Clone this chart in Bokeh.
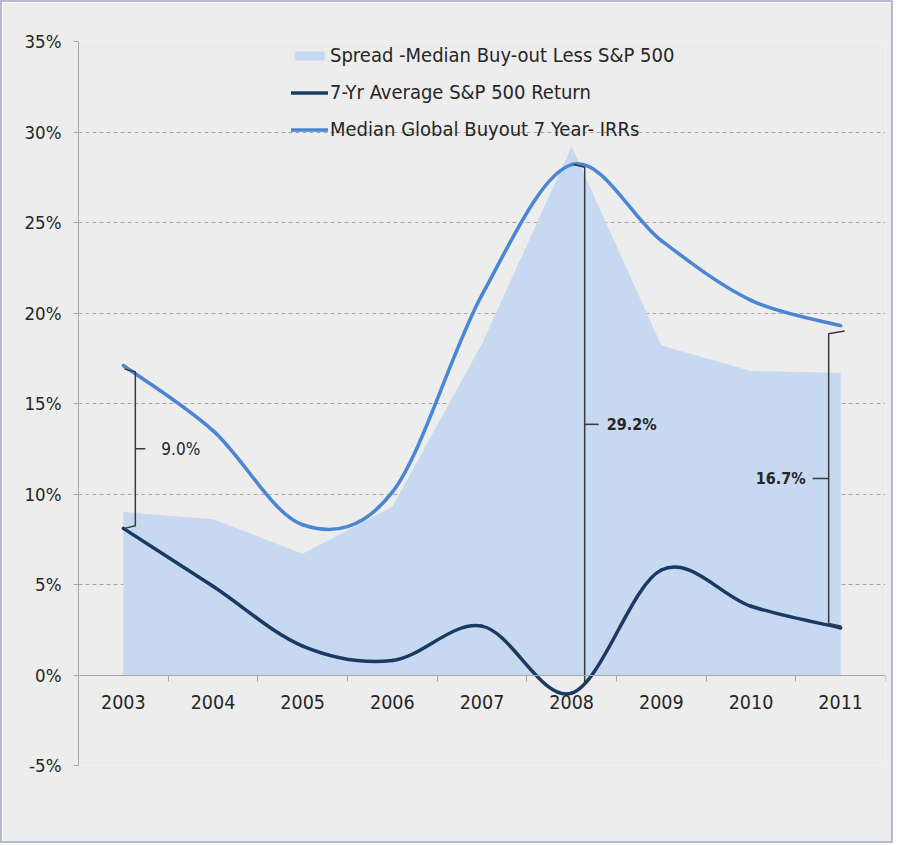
import numpy as np
from bokeh.plotting import figure
from bokeh.models import (FixedTicker, PrintfTickFormatter, Legend, LegendItem,
                          Range1d, ColumnDataSource)
from bokeh.core.properties import value
from bokeh.embed import file_html
from bokeh.resources import INLINE

# ---- data ----
years = ["2003", "2004", "2005", "2006", "2007", "2008", "2009", "2010", "2011"]
spread = [9.0, 8.6, 6.7, 9.3, 18.3, 29.2, 18.2, 16.8, 16.7]
sp500 = [8.1, 4.9, 1.6, 0.8, 2.7, -1.0, 5.8, 3.8, 2.6]
buyout = [17.1, 13.5, 8.3, 10.1, 21.0, 28.2, 24.0, 20.7, 19.3]
yticks = [-5, 0, 5, 10, 15, 20, 25, 30, 35]

series_names = ["Spread -Median Buy-out Less S&P 500",
                "7-Yr Average S&P 500 Return",
                "Median Global Buyout 7 Year- IRRs"]

FONT = "DejaVu Sans Condensed"
TXT = "#262626"
GRID = "#A6A6A6"
BG = "#EDEDED"

x = np.arange(len(years), dtype=float)


def smooth_segments(xv, yv):
    """Excel-style smoothed line as cubic Bezier segments through the data points."""
    n = len(xv)
    px = np.concatenate([[xv[0]], xv, [xv[-1]]])
    py = np.concatenate([[yv[0]], yv, [yv[-1]]])
    d = dict(x0=[], y0=[], x1=[], y1=[], cx0=[], cy0=[], cx1=[], cy1=[])
    for i in range(n - 1):
        j = i + 1  # index into padded arrays
        d["x0"].append(px[j]); d["y0"].append(py[j])
        d["x1"].append(px[j + 1]); d["y1"].append(py[j + 1])
        d["cx0"].append(px[j] + (px[j + 1] - px[j - 1]) / 6.0)
        d["cy0"].append(py[j] + (py[j + 1] - py[j - 1]) / 6.0)
        d["cx1"].append(px[j + 1] - (px[j + 2] - px[j]) / 6.0)
        d["cy1"].append(py[j + 1] - (py[j + 2] - py[j]) / 6.0)
    return ColumnDataSource(d)


p = figure(width=893, height=843,
           x_range=Range1d(-0.5, len(years) - 0.5), y_range=Range1d(-5, 35),
           output_backend="svg", toolbar_location=None,
           min_border_left=76, min_border_right=10, min_border_top=39, min_border_bottom=80,
           background_fill_color=BG, border_fill_color=BG, outline_line_color=None)
p.styles = {"border": "2px solid #B4BBD0"}

# grid
p.xgrid.visible = False
p.ygrid.ticker = FixedTicker(ticks=yticks)
p.ygrid.grid_line_color = GRID
p.ygrid.grid_line_dash = "4 3"
p.ygrid.grid_line_width = 1

# y axis
yax = p.yaxis[0]
yax.ticker = FixedTicker(ticks=yticks)
yax.formatter = PrintfTickFormatter(format="%d%%")
yax.axis_line_color = GRID
yax.major_tick_line_color = GRID
yax.major_tick_out = 5
yax.major_tick_in = 0
yax.minor_tick_line_color = None
yax.major_label_standoff = 12
yax.major_label_text_font = FONT
yax.major_label_text_font_size = "18.5px"
yax.major_label_text_color = TXT

# x axis at 0%
xax = p.xaxis[0]
xax.fixed_location = 0
xax.ticker = FixedTicker(ticks=list(x), minor_ticks=[v + 0.5 for v in [-1.0] + list(x)])
xax.major_label_overrides = {int(i): yr for i, yr in zip(x, years)}
xax.axis_line_color = GRID
xax.major_tick_line_color = None
xax.minor_tick_line_color = GRID
xax.minor_tick_out = 6
xax.minor_tick_in = 0
xax.major_label_standoff = 14
xax.major_label_text_font = FONT
xax.major_label_text_font_size = "19.5px"
xax.major_label_text_color = TXT

# spread area
r_area = p.varea(x=x, y1=0, y2=spread, fill_color="#C6D9F1", fill_alpha=1.0)

# smoothed lines
r_sp = p.bezier(x0="x0", y0="y0", x1="x1", y1="y1", cx0="cx0", cy0="cy0",
                cx1="cx1", cy1="cy1", source=smooth_segments(x, np.array(sp500)),
                line_color="#1B3A63", line_width=3.5, line_cap="round")
r_bo = p.bezier(x0="x0", y0="y0", x1="x1", y1="y1", cx0="cx0", cy0="cy0",
                cx1="cx1", cy1="cy1", source=smooth_segments(x, np.array(buyout)),
                line_color="#4A86D4", line_width=3.5, line_cap="round")

# brackets (curly braces) showing the spread
BR = "#3A3A3A"
u = 1.0 / 89.6  # one pixel in x data units

def brace(xb, ytop, ybot, hook_dx_top, hook_dx_bot, nub_dx):
    ymid = (ytop + ybot) / 2.0
    xs = [[xb + hook_dx_top, xb, xb, xb + hook_dx_bot],
          [xb, xb + nub_dx]]
    ys = [[ytop, ytop - 0.15, ybot + 0.15, ybot],
          [ymid, ymid]]
    p.multi_line(xs=xs, ys=ys, line_color=BR, line_width=1.5)
    return ymid

# 2003
i = 0
xb = x[i] + 12 * u
m0 = brace(xb, buyout[i] - 0.2, sp500[i], -11 * u, -11 * u, 10 * u)
p.text(x=[xb + 26 * u], y=[m0], text=["%.1f%%" % spread[i]], text_font=value(FONT),
       text_font_size="17px", text_color=TXT, text_align="left", text_baseline="middle")
# 2008
i = 5
xb = x[i] + 13 * u
m5 = brace(xb, buyout[i], sp500[i] + 0.5, -11 * u, 0, 14 * u)
p.text(x=[xb + 22 * u], y=[m5], text=["%.1f%%" % spread[i]], text_font=value(FONT),
       text_font_size="16px", text_font_style="bold", text_color=TXT,
       text_align="left", text_baseline="middle")
# 2011
i = 8
xb = x[i] - 12 * u
m8 = brace(xb, buyout[i] - 0.3, sp500[i] + 0.1, 16 * u, 13 * u, -16 * u)
p.text(x=[xb - 23 * u], y=[m8], text=["%.1f%%" % spread[i]], text_font=value(FONT),
       text_font_size="16px", text_font_style="bold", text_color=TXT,
       text_align="right", text_baseline="middle")

# legend
legend = Legend(items=[LegendItem(label=series_names[0], renderers=[r_area]),
                       LegendItem(label=series_names[1], renderers=[r_sp]),
                       LegendItem(label=series_names[2], renderers=[r_bo])],
                location=(213, 624), orientation="vertical",
                background_fill_alpha=0, border_line_color=None,
                padding=0, margin=0, spacing=13,
                glyph_width=37, glyph_height=11, label_height=22,
                label_standoff=2,
                label_text_font=FONT, label_text_font_size="20px",
                label_text_color=TXT)
p.add_layout(legend)

open("out.html", "w").write(file_html(p, INLINE))
